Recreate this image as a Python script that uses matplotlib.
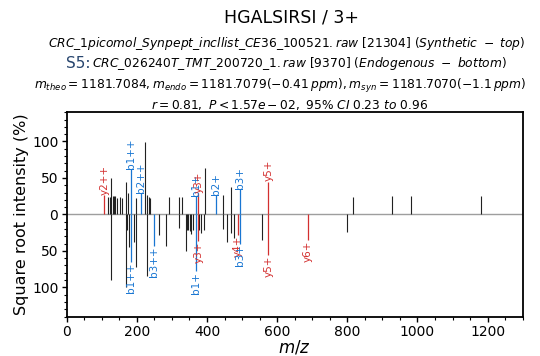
import matplotlib
matplotlib.use("Agg")
import matplotlib.pyplot as plt
from matplotlib.ticker import MultipleLocator, FixedLocator, FuncFormatter

# ---------------- data ----------------
# Synthetic (top) unannotated peaks
top_mz = [119, 124, 127, 131, 135, 139, 143, 152, 157, 168.5, 174, 197, 224, 230, 234, 238,
          292, 321, 330, 393, 445, 468.5, 817, 928, 981, 1181]
top_int = [24, 24, 50, 25, 25, 25, 22, 24, 22, 44, 29, 22, 99, 27, 24, 22,
           24, 24, 24, 63, 27, 37, 24, 25, 25, 25]

# Synthetic (top) annotated peaks
top_ann_mz = [107.5, 184.1, 212.6, 367.2, 375.2, 424.3, 495.3, 575.3]
top_ann_int = [26, 62, 29, 25, 29, 26, 35, 45]
top_ann_lab = ["y2++", "b1++", "b2++", "b1+", "y3+", "b2+", "b3+", "y5+"]

# Endogenous (bottom) unannotated peaks
bot_mz = [127, 168.5, 171, 178, 192, 197, 230, 262, 283, 321, 339, 342, 345, 352, 355, 359,
          378, 384, 392, 445, 457, 467, 476, 557, 800]
bot_int = [90, 100, 21, 45, 38, 72, 85, 28, 44, 19, 50, 21, 21, 23, 27, 21,
           21, 25, 21, 20, 38, 25, 32, 35, 24]

# Endogenous (bottom) annotated peaks
bot_ann_mz = [184.1, 248.1, 367.2, 375.2, 488.3, 495.3, 575.3, 688.4]
bot_ann_int = [65, 43, 78, 37, 28, 40, 56, 35]
bot_ann_lab = ["b1++", "b3++", "b1+", "y3+", "y4+", "b3+", "y5+", "y6+"]

title = "HGALSIRSI / 3+"
line2 = r"$CRC\_1picomol\_Synpept\_incllist\_CE36\_100521.raw$ [21304] ($Synthetic\ -\ top$)"
line3_a = "S5:"
line3_b = r"$CRC\_026240T\_TMT\_200720\_1.raw$ [9370] ($Endogenous\ -\ bottom$)"
line4 = (r"$m_{theo} = 1181.7084, m_{endo} = 1181.7079(-0.41\,ppm), "
         r"m_{syn} = 1181.7070(-1.1\,ppm)$")
line5 = r"$r = 0.81,\ P < 1.57e-02,\ 95\%\ CI\ 0.23\ to\ 0.96$"

# ---------------- plot ----------------
B_COL = "#1976D2"
Y_COL = "#D32F2F"
P_COL = "#212121"

fig = plt.figure(figsize=(5.4, 3.56), dpi=100)
ax = fig.add_axes([66.7 / 540, 1 - 316.5 / 356, (522.7 - 66.7) / 540, (316.5 - 112.3) / 356])

ax.vlines(top_mz, 0, top_int, color=P_COL, lw=0.8)
ax.vlines(bot_mz, 0, [-v for v in bot_int], color=P_COL, lw=0.8)

def col(lab):
    return B_COL if lab.startswith("b") else Y_COL

for mz, v, lab in zip(top_ann_mz, top_ann_int, top_ann_lab):
    ax.vlines(mz, 0, v, color=col(lab), lw=0.9)
    ax.text(mz, v + 0.5, lab, rotation=90, ha="center", va="bottom",
            color=col(lab), fontsize=7.5)
for mz, v, lab in zip(bot_ann_mz, bot_ann_int, bot_ann_lab):
    ax.vlines(mz, 0, -v, color=col(lab), lw=0.9)
    ax.text(mz, -v - 0.5, lab, rotation=90, ha="center", va="top",
            color=col(lab), fontsize=7.5)

ax.axhline(0, color="#9e9e9e", lw=1.0, zorder=0)

ax.set_xlim(0, 1300)
ax.set_ylim(-140, 140)
ax.xaxis.set_major_locator(MultipleLocator(200))
ax.xaxis.set_minor_locator(MultipleLocator(50))
ax.yaxis.set_major_locator(FixedLocator([-100, -50, 0, 50, 100]))
ax.yaxis.set_minor_locator(MultipleLocator(10))
ax.yaxis.set_major_formatter(FuncFormatter(lambda v, p: f"{abs(v):.0f}"))
ax.tick_params(axis="both", which="major", labelsize=10, length=3.5, width=1, pad=2.5)
ax.tick_params(axis="both", which="minor", length=2, width=0.8)
for s in ax.spines.values():
    s.set_linewidth(1.3)

ax.set_xlabel(r"$m/z$", fontsize=12, labelpad=0)
ax.set_ylabel("Square root intensity (%)", fontsize=11.5, labelpad=2)

fig.text(291 / 540, 1 - 18 / 356, title, ha="center", va="center", fontsize=12.5)
fig.text(287 / 540, 1 - 43 / 356, line2, ha="center", va="center", fontsize=8.8)
fig.text(66 / 540, 1 - 64 / 356, line3_a, ha="left", va="center", fontsize=11, color="#27456e")
fig.text(92 / 540, 1 - 64 / 356, line3_b, ha="left", va="center", fontsize=8.8)
fig.text(280 / 540, 1 - 86 / 356, line4, ha="center", va="center", fontsize=8.8)
fig.text(290 / 540, 1 - 105 / 356, line5, ha="center", va="center", fontsize=8.8)

fig.savefig("out.png", dpi=100)
